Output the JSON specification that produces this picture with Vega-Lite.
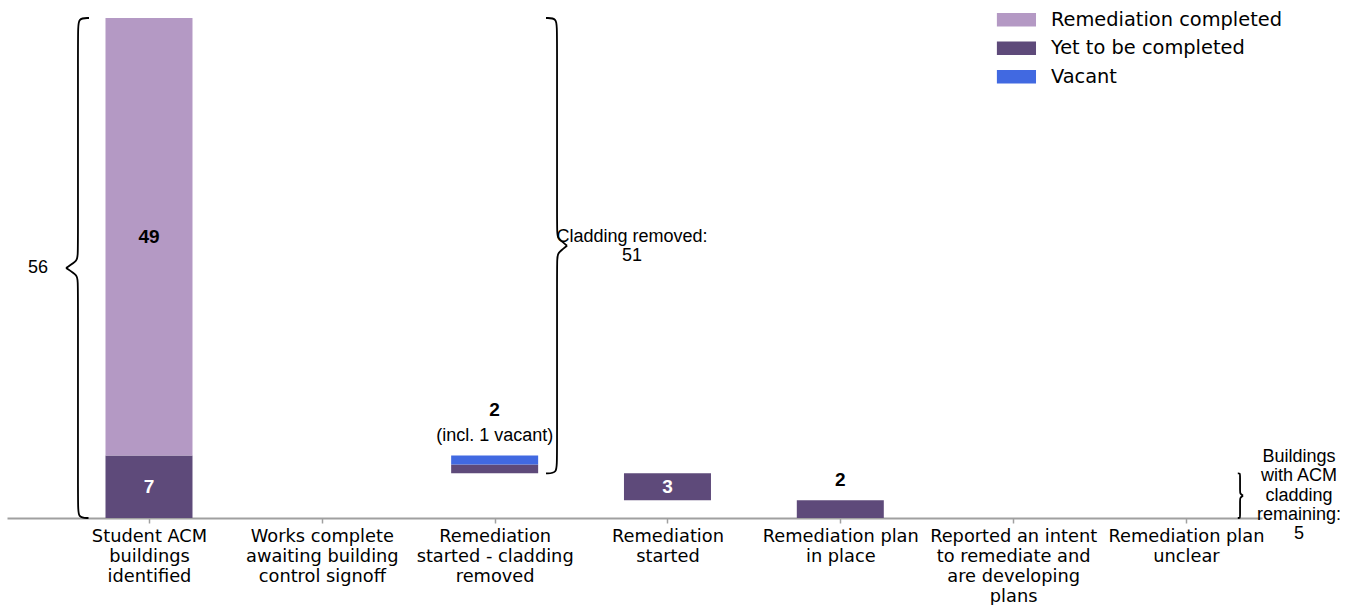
{
  "$schema": "https://vega.github.io/schema/vega-lite/v6.json",
  "width": 1255,
  "height": 500,
  "autosize": {"type": "none"},
  "padding": {"left": 7, "top": 18, "right": 92, "bottom": 87},
  "background": "white",
  "config": {"view": {"stroke": null}},
  "layer": [
    {
      "data": {"values": [
        {"x": 0, "seg": "Yet to be completed", "y0": 0, "y1": 7},
        {"x": 0, "seg": "Remediation completed", "y0": 7, "y1": 56},
        {"x": 2, "seg": "Yet to be completed", "y0": 5, "y1": 6},
        {"x": 2, "seg": "Vacant", "y0": 6, "y1": 7},
        {"x": 3, "seg": "Yet to be completed", "y0": 2, "y1": 5},
        {"x": 4, "seg": "Yet to be completed", "y0": 0, "y1": 2}
      ]},
      "mark": {"type": "bar", "width": 87},
      "encoding": {
        "x": {"field": "x", "type": "quantitative",
          "scale": {"domain": [-0.8216, 6.44], "nice": false, "zero": false, "padding": 0},
          "axis": {"values": [0, 1, 2, 3, 4, 5, 6], "title": null, "grid": false,
            "labelExpr": "[['Student ACM','buildings','identified'],['Works complete','awaiting building','control signoff'],['Remediation','started - cladding','removed'],['Remediation','started'],['Remediation plan','in place'],['Reported an intent','to remediate and','are developing','plans'],['Remediation plan','unclear']][datum.value]",
            "domainColor": "#a0a0a0", "domainWidth": 2, "tickColor": "#a0a0a0", "tickWidth": 1.5, "tickSize": 5,
            "labelFont": "DejaVu Sans", "labelFontSize": 17.8, "labelColor": "black", "labelLineHeight": 20.3,
            "labelPadding": 4, "labelBaseline": "top", "labelAlign": "center", "labelFlush": false, "labelOverlap": false}},
        "y": {"field": "y0", "type": "quantitative", "scale": {"domain": [0, 56], "nice": false}, "axis": null},
        "y2": {"field": "y1"},
        "color": {"field": "seg", "type": "nominal",
          "scale": {"domain": ["Remediation completed", "Yet to be completed", "Vacant"], "range": ["#b499c4", "#5e4a7a", "#4169e1"]},
          "legend": {"orient": "none", "legendX": 999.75, "legendY": -8, "title": null,
            "symbolType": "M-2.9,-1H2.9V1H-2.9Z", "symbolSize": 182, "symbolStrokeWidth": 0,
            "labelFont": "DejaVu Sans", "labelFontSize": 19.4, "labelOffset": 24.75, "labelLimit": 400, "rowPadding": 7.5, "labelColor": "black"}}
      }
    },
    {
      "data": {"values": [
        {"b": "L1", "k": 1, "x": -0.347, "y": 56},
        {"b": "L1", "k": 2, "x": -0.411, "y": 56},
        {"b": "L1", "k": 3, "x": -0.411, "y": 54.6},
        {"b": "L1", "k": 4, "x": -0.411, "y": 29.4},
        {"b": "L1", "k": 5, "x": -0.411, "y": 28.9},
        {"b": "L1", "k": 6, "x": -0.48, "y": 28},
        {"b": "L2", "k": 1, "x": -0.48, "y": 28},
        {"b": "L2", "k": 2, "x": -0.411, "y": 27.1},
        {"b": "L2", "k": 3, "x": -0.411, "y": 26.6},
        {"b": "L2", "k": 4, "x": -0.411, "y": 1.4},
        {"b": "L2", "k": 5, "x": -0.411, "y": 0},
        {"b": "L2", "k": 6, "x": -0.35, "y": 0},
        {"b": "C1", "k": 1, "x": 2.297, "y": 56},
        {"b": "C1", "k": 2, "x": 2.361, "y": 56},
        {"b": "C1", "k": 3, "x": 2.361, "y": 54.6},
        {"b": "C1", "k": 4, "x": 2.361, "y": 31.9},
        {"b": "C1", "k": 5, "x": 2.361, "y": 31.4},
        {"b": "C1", "k": 6, "x": 2.419, "y": 30.5},
        {"b": "C2", "k": 1, "x": 2.419, "y": 30.5},
        {"b": "C2", "k": 2, "x": 2.361, "y": 29.6},
        {"b": "C2", "k": 3, "x": 2.361, "y": 29.1},
        {"b": "C2", "k": 4, "x": 2.361, "y": 6.4},
        {"b": "C2", "k": 5, "x": 2.361, "y": 5},
        {"b": "C2", "k": 6, "x": 2.297, "y": 5},
        {"b": "R1", "k": 1, "x": 6.30, "y": 5},
        {"b": "R1", "k": 2, "x": 6.313, "y": 5},
        {"b": "R1", "k": 3, "x": 6.313, "y": 4.8},
        {"b": "R1", "k": 4, "x": 6.313, "y": 2.9},
        {"b": "R1", "k": 5, "x": 6.313, "y": 2.75},
        {"b": "R1", "k": 6, "x": 6.33, "y": 2.5},
        {"b": "R2", "k": 1, "x": 6.33, "y": 2.5},
        {"b": "R2", "k": 2, "x": 6.313, "y": 2.25},
        {"b": "R2", "k": 3, "x": 6.313, "y": 2.1},
        {"b": "R2", "k": 4, "x": 6.313, "y": 0.2},
        {"b": "R2", "k": 5, "x": 6.313, "y": 0},
        {"b": "R2", "k": 6, "x": 6.30, "y": 0}
      ]},
      "mark": {"type": "line", "interpolate": "basis", "color": "black", "strokeWidth": 1.8},
      "encoding": {
        "x": {"field": "x", "type": "quantitative"},
        "y": {"field": "y", "type": "quantitative"},
        "detail": {"field": "b"},
        "order": {"field": "k", "type": "quantitative"}
      }
    },
    {
      "data": {"values": [
        {"x": 0, "y": 3.5, "t": "7"},
        {"x": 3, "y": 3.5, "t": "3"}
      ]},
      "mark": {"type": "text", "font": "Liberation Sans", "fontWeight": "bold", "fontSize": 19, "color": "white", "align": "center", "baseline": "middle"},
      "encoding": {
        "x": {"field": "x", "type": "quantitative"},
        "y": {"field": "y", "type": "quantitative"},
        "text": {"field": "t"}
      }
    },
    {
      "data": {"values": [
        {"x": 0, "y": 31.5, "t": "49"},
        {"x": 2, "y": 12.1, "t": "2"},
        {"x": 4, "y": 4.26, "t": "2"}
      ]},
      "mark": {"type": "text", "font": "Liberation Sans", "fontWeight": "bold", "fontSize": 19, "color": "black", "align": "center", "baseline": "middle"},
      "encoding": {
        "x": {"field": "x", "type": "quantitative"},
        "y": {"field": "y", "type": "quantitative"},
        "text": {"field": "t"}
      }
    },
    {
      "data": {"values": [
        {"x": 2, "y": 9.18, "t": "(incl. 1 vacant)"},
        {"x": -0.642, "y": 28, "t": "56"},
        {"x": 2.795, "y": 31.47, "t": "Cladding removed:|51"},
        {"x": 6.654, "y": 6.83, "t": "Buildings|with ACM|cladding|remaining:|5"}
      ]},
      "mark": {"type": "text", "font": "Liberation Sans", "fontSize": 18, "color": "black", "align": "center", "baseline": "middle", "lineBreak": "|", "lineHeight": 19.3},
      "encoding": {
        "x": {"field": "x", "type": "quantitative"},
        "y": {"field": "y", "type": "quantitative"},
        "text": {"field": "t"}
      }
    }
  ]
}
